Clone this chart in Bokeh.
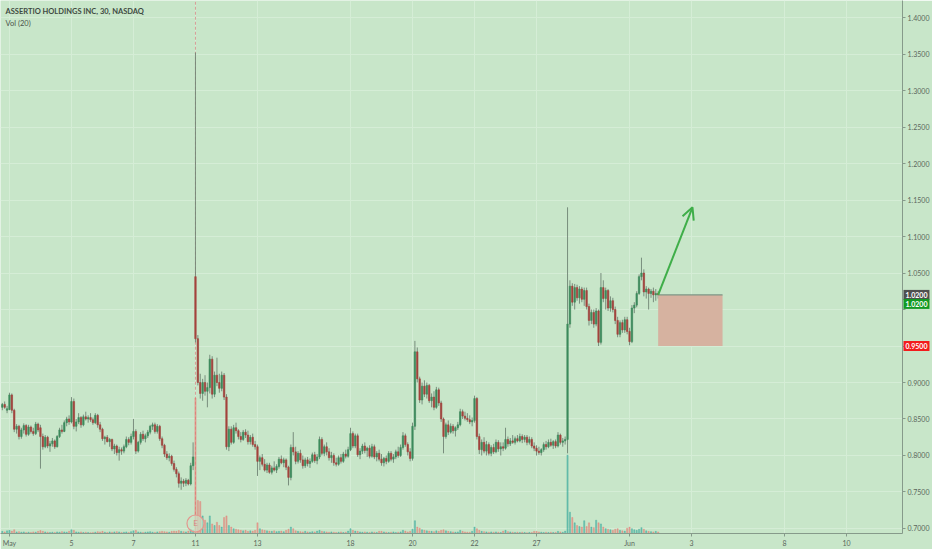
from bokeh.plotting import figure
from bokeh.models import Range1d, FixedTicker, Label, Arrow, OpenHead, NumeralTickFormatter
from bokeh.core.properties import value
from bokeh.embed import file_html
from bokeh.resources import INLINE

# ---------------- data (30-minute bars, Apr 30 (last 3) .. Jun 1) ----------------
first_idx = -3   # bar index of the first bar; May 1 09:30 is bar 0
opens = [
 .866,.870,.862,                                                     # Apr 30
 .863,.883,.862,.836,.840,.826,.835,.841,.829,.839,.833,.830,.843,   # May 1
 .838,.826,.812,.825,.813,.816,.820,.812,.826,.835,.833,.845,.850,   # May 4
 .846,.874,.840,.846,.852,.842,.853,.850,.852,.849,.845,.855,.842,   # May 5
 .836,.823,.825,.819,.822,.809,.813,.804,.808,.806,.812,.822,.818,   # May 6
 .826,.833,.806,.818,.829,.823,.827,.832,.840,.842,.833,.840,.823,   # May 7
 .814,.802,.797,.799,.789,.781,.775,.762,.765,.762,.766,.761,.786,   # May 8
 1.045,.960,.900,.885,.900,.888,.893,.932,.884,.910,.900,.892,.910,  # May 11
 .880,.812,.836,.818,.838,.834,.826,.822,.832,.828,.819,.825,.815,   # May 12
 .812,.792,.797,.788,.780,.787,.777,.783,.780,.785,.795,.790,.794,   # May 13
 .784,.770,.811,.805,.792,.803,.794,.786,.794,.789,.792,.801,.793,   # May 14
 .798,.822,.803,.812,.805,.797,.800,.790,.788,.797,.792,.802,.799,   # May 15
 .808,.830,.813,.827,.801,.806,.813,.807,.810,.799,.812,.798,.803,   # May 18
 .795,.790,.796,.792,.803,.795,.798,.805,.800,.811,.827,.815,.805,   # May 19
 .796,.840,.942,.905,.876,.895,.884,.896,.875,.880,.866,.890,.872,   # May 20
 .850,.826,.842,.832,.840,.834,.838,.842,.860,.854,.851,.849,.846,   # May 21
 .848,.878,.826,.808,.818,.806,.815,.803,.811,.805,.818,.809,.812,   # May 22
 .810,.822,.816,.820,.818,.823,.820,.826,.822,.825,.818,.822,.813,   # May 26
 .810,.806,.804,.808,.815,.812,.818,.814,.819,.813,.828,.818,.820,   # May 27
 .822,.980,1.032,1.010,1.030,1.016,1.028,1.014,1.026,1.004,.985,.996,.980,  # May 28
 .998,.955,1.030,1.015,1.026,1.002,1.012,1.000,.985,.966,.982,.972,.986,    # May 29
 .970,.956,1.002,1.006,1.022,1.045,1.050,1.024,1.028,1.022,1.025,1.020,1.022,  # Jun 1
]
highs = [
 .872,.874,.868,
 .886,.885,.864,.843,.842,.838,.844,.843,.842,.841,.838,.846,.845,
 .842,.830,.828,.827,.820,.824,.822,.828,.838,.842,.848,.853,.855,
 .880,.878,.850,.858,.854,.856,.860,.855,.858,.852,.858,.857,.846,
 .838,.827,.828,.824,.823,.816,.815,.812,.811,.815,.826,.825,.830,
 .850,.836,.820,.832,.834,.830,.835,.842,.845,.845,.843,.842,.826,
 .816,.806,.803,.801,.793,.784,.778,.770,.768,.769,.768,.790,.818,
 1.352,.965,.912,.905,.910,.900,.938,.936,.915,.934,.912,.915,.913,
 .884,.840,.840,.842,.845,.836,.832,.835,.836,.834,.828,.830,.820,
 .815,.800,.802,.795,.790,.790,.786,.792,.788,.798,.800,.797,.796,
 .786,.815,.832,.812,.806,.808,.800,.797,.798,.796,.804,.805,.802,
 .826,.825,.815,.818,.810,.805,.803,.797,.800,.802,.805,.808,.812,
 .838,.833,.830,.830,.810,.816,.818,.812,.814,.816,.815,.806,.808,
 .802,.798,.800,.806,.806,.802,.808,.812,.815,.832,.830,.818,.810,
 .845,.957,.948,.908,.900,.903,.900,.898,.885,.888,.894,.893,.875,
 .852,.845,.848,.844,.843,.840,.846,.864,.863,.860,.858,.855,.852,
 .882,.880,.830,.822,.825,.820,.818,.814,.816,.822,.821,.818,.818,
 .838,.826,.824,.828,.826,.828,.830,.829,.828,.828,.826,.825,.818,
 .814,.812,.810,.818,.820,.822,.823,.821,.822,.832,.830,.824,.826,
 1.140,1.040,1.036,1.035,1.034,1.032,1.031,1.030,1.030,1.008,1.000,1.000,1.002,
 1.000,1.050,1.040,1.030,1.028,1.018,1.016,1.004,.990,.985,.986,.990,.990,
 .975,1.006,1.010,1.025,1.048,1.071,1.055,1.032,1.030,1.028,1.030,1.028,1.025,
]
lows = [
 .862,.864,.858,
 .862,.858,.832,.830,.822,.823,.830,.826,.827,.830,.827,.828,.832,
 .782,.808,.810,.810,.805,.812,.809,.811,.824,.830,.832,.840,.842,
 .844,.836,.833,.843,.838,.840,.848,.845,.846,.842,.843,.838,.832,
 .820,.815,.818,.812,.806,.802,.800,.793,.801,.803,.810,.814,.815,
 .822,.802,.804,.815,.820,.818,.824,.829,.835,.830,.830,.820,.810,
 .798,.794,.792,.786,.778,.770,.756,.753,.757,.758,.759,.759,.780,
 .955,.896,.878,.875,.882,.866,.885,.878,.880,.895,.886,.888,.876,
 .808,.806,.815,.816,.830,.822,.818,.820,.824,.815,.815,.812,.808,
 .772,.780,.785,.778,.776,.775,.774,.778,.776,.782,.788,.784,.780,
 .759,.766,.800,.788,.789,.790,.782,.783,.785,.783,.790,.790,.788,
 .795,.800,.799,.800,.793,.790,.786,.785,.786,.789,.790,.796,.797,
 .806,.810,.810,.798,.795,.802,.803,.798,.796,.797,.795,.792,.792,
 .786,.785,.788,.790,.792,.790,.795,.797,.798,.808,.812,.800,.792,
 .793,.835,.900,.872,.870,.880,.878,.872,.866,.862,.864,.868,.846,
 .803,.823,.828,.830,.830,.826,.835,.840,.850,.848,.846,.843,.840,
 .845,.822,.802,.800,.803,.800,.800,.799,.802,.803,.805,.800,.806,
 .808,.812,.813,.816,.815,.818,.818,.817,.818,.814,.815,.810,.806,
 .800,.801,.800,.805,.808,.810,.812,.809,.810,.811,.815,.812,.815,
 .803,.975,1.005,1.000,1.012,1.008,1.010,1.005,1.000,.978,.980,.975,.977,
 .950,.952,1.010,1.000,.998,.997,.996,.980,.962,.962,.968,.968,.966,
 .951,.954,.995,1.003,1.020,1.040,1.018,1.015,1.000,1.016,1.010,1.012,1.015,
]
closes = [
 .870,.866,.864,
 .883,.862,.836,.840,.826,.835,.841,.829,.839,.833,.830,.843,.835,
 .826,.812,.825,.813,.816,.820,.812,.826,.835,.833,.845,.850,.846,
 .874,.840,.846,.852,.842,.853,.850,.852,.849,.845,.855,.842,.836,
 .823,.825,.819,.822,.809,.813,.804,.808,.806,.812,.822,.818,.826,
 .833,.806,.818,.829,.823,.827,.832,.840,.842,.833,.840,.823,.814,
 .802,.797,.799,.789,.781,.775,.762,.765,.762,.766,.761,.786,.798,
 .960,.900,.885,.900,.888,.893,.932,.884,.910,.900,.892,.910,.880,
 .812,.836,.818,.838,.834,.826,.822,.832,.828,.819,.825,.815,.812,
 .792,.797,.788,.780,.787,.777,.783,.780,.785,.795,.790,.794,.784,
 .770,.811,.805,.792,.803,.794,.786,.794,.789,.792,.801,.793,.798,
 .822,.803,.812,.805,.797,.800,.790,.788,.797,.792,.802,.799,.808,
 .830,.813,.827,.801,.806,.813,.807,.810,.799,.812,.798,.803,.795,
 .790,.796,.792,.803,.795,.798,.805,.800,.811,.827,.815,.805,.796,
 .840,.942,.905,.876,.895,.884,.896,.875,.880,.866,.890,.872,.850,
 .826,.842,.832,.840,.834,.838,.842,.860,.854,.851,.849,.846,.848,
 .878,.826,.808,.818,.806,.815,.803,.811,.805,.818,.809,.812,.810,
 .822,.816,.820,.818,.823,.820,.826,.822,.825,.818,.822,.813,.810,
 .806,.804,.808,.815,.812,.818,.814,.819,.813,.828,.818,.820,.822,
 .980,1.032,1.010,1.030,1.016,1.028,1.014,1.026,1.004,.985,.996,.980,.998,
 .955,1.030,1.015,1.026,1.002,1.012,1.000,.985,.966,.982,.972,.986,.970,
 .956,1.002,1.006,1.022,1.045,1.050,1.024,1.028,1.022,1.025,1.020,1.022,1.020,
]
# volume, thousands of shares
volumes = [
 40,30,50,
 60,45,70,30,35,25,30,20,25,20,30,25,40,
 55,40,30,25,20,25,20,30,25,35,30,25,40,
 70,60,30,25,30,20,25,20,15,20,25,35,30,
 40,25,20,30,25,30,35,30,20,25,30,20,35,
 50,60,30,25,20,25,30,35,25,20,30,35,40,
 35,30,25,40,45,40,55,40,35,30,45,80,60,
 2540,620,600,330,250,200,330,180,150,210,150,120,300,
 330,150,120,90,80,70,60,50,60,40,50,45,60,
 200,90,70,60,50,45,40,50,35,40,45,35,60,
 80,120,90,50,40,35,30,40,30,25,35,30,45,
 60,40,35,30,25,30,25,20,25,30,20,25,45,
 90,60,45,40,30,25,30,25,20,30,25,20,40,
 40,30,25,20,25,30,20,25,30,60,45,30,40,
 80,240,120,100,70,60,50,45,40,35,50,40,60,
 70,50,40,35,30,25,30,60,40,30,25,25,40,
 120,90,60,40,35,30,25,30,25,30,25,20,45,
 60,35,30,25,20,25,20,25,20,15,20,20,40,
 40,30,25,20,25,20,25,20,20,40,30,25,45,
 1470,400,300,200,150,130,120,240,130,200,120,110,250,
 200,180,120,90,80,70,60,80,90,60,50,45,100,
 120,90,70,60,80,110,80,50,40,35,30,40,30,
]

tick_idx = [0, 26, 52, 78, 104, 143, 169, 195, 221, 260, 286, 325, 351]
tick_labels = ["May", "5", "7", "11", "13", "18", "20", "22", "27", "Jun", "3", "8", "10"]
price_ticks = [0.70, 0.75, 0.80, 0.85, 0.90, 0.95, 1.00, 1.05, 1.10, 1.15, 1.20, 1.25, 1.30, 1.35, 1.40]

earnings_idx = 78
entry_idx = 272
entry_price = 1.02
stop_price = 0.95
target_idx = 286.4
target_price = 1.14
box_end_idx = 299
last_price = 1.02

# ---------------- styling / layout ----------------
BG = "#c8e6c9"
GRID = "#d5edd6"
AXIS = "#869a8a"
LBL = "#5b665d"
UP = "#3d8b5d"
DOWN = "#a3433d"
WICK = "#6f8374"
FONT = "Lato"

X_START, X_END = -3.754, 374.45
Y_START, Y_END = 0.69315, 1.42329

n = len(closes)
idx = [first_idx + k for k in range(n)]
body_top = [max(o, c) for o, c in zip(opens, closes)]
body_bot = [min(o, c) for o, c in zip(opens, closes)]
is_up = [c >= o for o, c in zip(opens, closes)]

p = figure(frame_width=902, frame_height=533,
           x_range=Range1d(X_START, X_END), y_range=Range1d(Y_START, Y_END),
           y_axis_location="right", toolbar_location=None, output_backend="svg",
           min_border=0, min_border_left=0, min_border_top=0, min_border_right=0, min_border_bottom=0,
           background_fill_color=BG, border_fill_color=BG, outline_line_color=None)

p.extra_y_ranges = {"vol": Range1d(0, 10000)}

# grid
p.xgrid.ticker = FixedTicker(ticks=tick_idx)
p.ygrid.ticker = FixedTicker(ticks=price_ticks)
p.grid.grid_line_color = GRID
p.grid.grid_line_width = 1

# axes
p.yaxis.ticker = FixedTicker(ticks=price_ticks)
p.yaxis.formatter = NumeralTickFormatter(format="0.0000")
p.yaxis.major_label_overrides = {0.95: "", 1.0: ""}
p.xaxis.ticker = FixedTicker(ticks=tick_idx)
p.xaxis.major_label_overrides = {t: l for t, l in zip(tick_idx, tick_labels)}
for ax in (p.xaxis[0], p.yaxis[0]):
    ax.axis_line_color = AXIS
    ax.major_tick_line_color = AXIS
    ax.minor_tick_line_color = None
    ax.major_tick_in = 0
    ax.major_tick_out = 3
    ax.major_label_text_font = FONT
    ax.major_label_text_font_size = "7px"
    ax.major_label_text_color = LBL
    ax.major_label_standoff = 2

# earnings dashed line
earn_y = 0.70685
p.segment(x0=[earnings_idx], y0=[earn_y + 0.012], x1=[earnings_idx], y1=[Y_END],
          line_color="#d69f98", line_width=1, line_dash="3 2")

# volume
vol_colors = ["#2fa59a" if u else "#e8736c" for u in is_up]
p.vbar(x=idx, bottom=0, top=volumes, width=0.5, fill_color=vol_colors, line_color=vol_colors,
       line_width=0.6, fill_alpha=0.55, line_alpha=0.55, y_range_name="vol")

# candles
colors = [UP if u else DOWN for u in is_up]
p.segment(x0=idx, y0=lows, x1=idx, y1=highs, line_color=WICK, line_width=0.9)
p.vbar(x=idx, bottom=body_bot, top=body_top, width=0.62, fill_color=colors, line_color=colors, line_width=0.6)

# earnings marker
p.scatter(x=[earnings_idx], y=[earn_y], marker="circle", size=17, fill_color=BG, fill_alpha=0.6,
          line_color="#e3978e", line_width=1.2)
p.text(x=[earnings_idx], y=[earn_y], text=["E"], text_align="center", text_baseline="middle",
       text_font=value(FONT), text_font_size="8px", text_color="#d8877e")

# position box & projection arrow
p.quad(left=[entry_idx], right=[box_end_idx], bottom=[stop_price], top=[entry_price],
       fill_color="#d6b2a0", line_color=None)
p.segment(x0=[entry_idx], y0=[entry_price], x1=[box_end_idx], y1=[entry_price],
          line_color="#7e9584", line_width=1.2)
p.add_layout(Arrow(end=OpenHead(size=12, line_color="#3fae49", line_width=2),
                   x_start=entry_idx, y_start=entry_price, x_end=target_idx, y_end=target_price,
                   line_color="#3fae49", line_width=2))

# axis price tags (in the right side panel so they are not clipped by the frame)
def tag(y, text, bg, dy=0):
    p.add_layout(Label(x=X_END, y=y, x_offset=1, y_offset=dy, text=text, text_font=FONT,
                       text_font_size="7px", text_font_style="bold", text_color="white",
                       text_align="left", text_baseline="middle",
                       background_fill_color=bg, padding=2), "right")

tag(last_price, "1.0200", "#4f4f4f")
tag(entry_price, "1.0200", "#139a23", dy=-9)
tag(stop_price, "0.9500", "#f21c1c")

# header texts
p.add_layout(Label(x=-1.66, y=1.40822, text="ASSERTIO HOLDINGS INC, 30, NASDAQ", text_font=FONT,
                   text_font_size="7.5px", text_font_style="bold", text_color="#3f4a42",
                   text_baseline="middle"))
p.add_layout(Label(x=-1.66, y=1.39178, text="Vol (20)", text_font=FONT, text_font_size="7.5px",
                   text_color="#4a554c", text_baseline="middle"))

open("out.html", "w").write(file_html(p, INLINE))
